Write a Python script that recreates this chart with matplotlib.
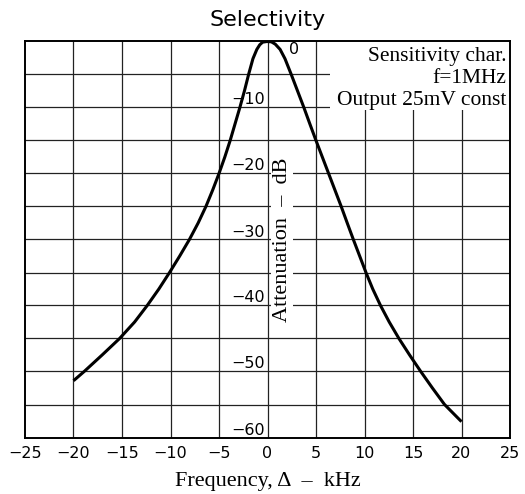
import matplotlib
matplotlib.use("Agg")
import matplotlib.pyplot as plt
from matplotlib.patches import Rectangle

plt.rcParams['axes.unicode_minus'] = True

# Data (frequency offset kHz, attenuation dB)
freq_khz = [-20.0, -18.9, -17.05, -15.25, -13.7, -12.4, -11.2, -10.1, -9.05, -8.05,
            -7.15, -6.35, -5.65, -5.0, -4.4, -3.85, -3.35, -2.85, -2.38, -1.95,
            -1.5, -1.1, -0.8, -0.5, -0.05, 0.4, 0.8, 1.3, 1.8, 2.45,
            3.1, 3.75, 4.37, 5.0, 5.65, 6.3, 6.95, 7.6, 8.22, 8.85,
            9.5, 10.15, 10.85, 11.65, 12.55, 13.55, 14.65, 15.8, 17.0, 18.25, 20.0]
atten_db = [-51.4, -50.0, -47.5, -45.0, -42.5, -40.0, -37.5, -35.0, -32.5, -30.0,
            -27.5, -25.0, -22.5, -20.0, -17.5, -15.0, -12.5, -10.0, -7.5, -5.0,
            -2.6, -1.2, -0.5, -0.1, 0.0, -0.05, -0.4, -1.2, -2.6, -5.0,
            -7.5, -10.0, -12.5, -15.0, -17.5, -20.0, -22.5, -25.0, -27.5, -30.0,
            -32.5, -35.0, -37.5, -40.0, -42.5, -45.0, -47.5, -50.0, -52.5, -55.0, -57.6]

x_ticks = [-25, -20, -15, -10, -5, 0, 5, 10, 15, 20, 25]
y_labels = [-10, -20, -30, -40, -50, -60]
annotation = "Sensitivity char.\nf=1MHz\nOutput 25mV const"

TICK_FONT = dict(fontsize=11.5, family='DejaVu Sans')

fig = plt.figure(figsize=(5.25, 4.94), dpi=100)
ax = fig.add_axes([25/525, 1-437.5/494, 485/525, 396/494])
ax.set_xlim(-25, 25)
ax.set_ylim(-60, 0)

for xv in x_ticks[1:-1]:
    ax.axvline(xv, color='#222222', lw=0.9, zorder=1)
for yv in range(-55, 0, 5):
    ax.axhline(yv, color='#222222', lw=0.9, zorder=1)

for s in ax.spines.values():
    s.set_linewidth(1.4)
    s.set_color('black')

ax.set_xticks(x_ticks)
ax.set_xticklabels([str(v).replace('-', '\u2212') for v in x_ticks], **TICK_FONT)
ax.set_yticks([])
ax.tick_params(axis='x', length=0, pad=6)

# white box behind annotation
ax.add_patch(Rectangle((0.629, 0.827), 0.371, 0.173, transform=ax.transAxes,
                       facecolor='white', edgecolor='none', zorder=2))
ax.text(0.993, 0.986, annotation, transform=ax.transAxes, ha='right', va='top',
        fontsize=15.5, family='Liberation Serif', linespacing=1.2, zorder=3)

ax.plot(freq_khz, atten_db, color='black', lw=2.2, solid_joinstyle='round',
        solid_capstyle='butt', zorder=4)

for v in y_labels:
    ax.text(-0.25, v, str(v).replace('-', '\u2212'), ha='right', va='bottom',
            zorder=5, **TICK_FONT)
ax.text(2.2, -0.15, '0', ha='left', va='top', zorder=5, **TICK_FONT)

ax.text(1.5, -30, 'Attenuation  –  dB', rotation=90, ha='center', va='center',
        fontsize=16, family='Liberation Serif', zorder=3,
        bbox=dict(facecolor='white', edgecolor='none', pad=1))

ax.set_xlabel('Frequency, Δ  –  kHz', fontsize=16, family='Liberation Serif', labelpad=8)
ax.set_title('Selectivity', fontsize=16, family='DejaVu Sans', pad=11)

fig.savefig('out.png', dpi=100)
